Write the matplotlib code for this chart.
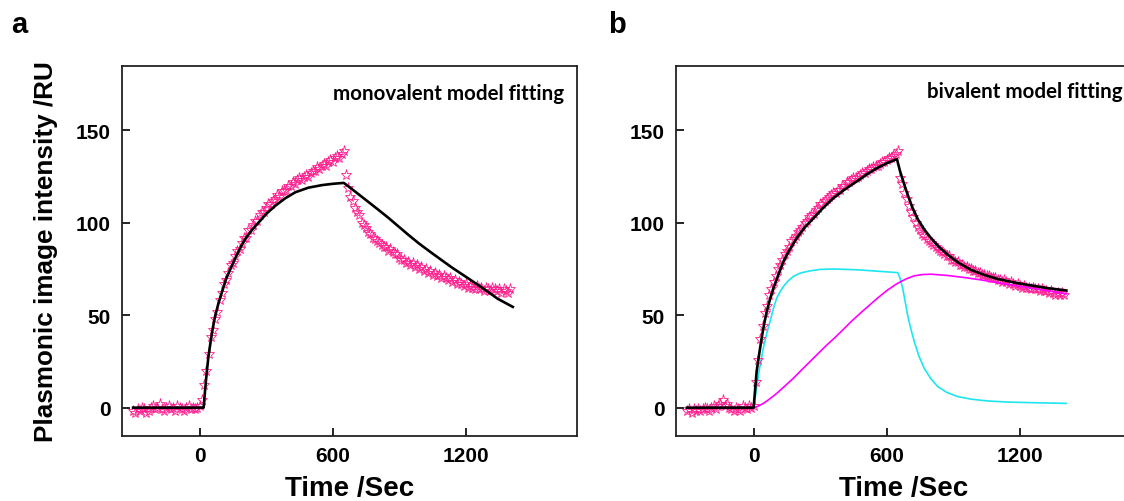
import numpy as np
import matplotlib
matplotlib.use("Agg")
import matplotlib.pyplot as plt

plt.rcParams['font.family'] = 'Liberation Sans'
plt.rcParams['font.weight'] = 'bold'

# measured signal (stars), one point every 10 s from -300 s to 1400 s
star_t = np.arange(-300, 1401, 10)

mono_signal = [
    -2, -3, -1, -2, 0, -1, -3, -2, 0, 1, -1, 0, 2, -1, -2, 0, 1, -1, 0, -2,
    1, 0, -1, -2, 0, 1, -1, 0, -1, 0, 1, 4,
    12, 20, 29, 38, 42, 48, 52, 58, 62, 67, 69, 73, 77, 78, 82, 85, 86, 89, 92, 92,
    96, 96, 99, 101, 101, 104, 106, 106, 108, 110, 110, 112, 113, 115, 114, 117, 117, 118, 120, 120,
    122, 121, 123, 124, 123, 125, 126, 125, 127, 128, 128, 130, 129, 131, 132, 131, 133, 134, 133, 135,
    136, 135, 137, 139,
    126, 119, 114, 112, 108, 106, 104, 100, 99, 97, 95, 94, 92, 91, 90, 89, 88, 87, 87, 85,
    86, 84, 83, 83, 81, 80, 80, 78, 79, 77, 78, 76, 77, 75, 76, 74, 75, 73, 74, 72,
    73, 71, 72, 70, 71, 70, 69, 70, 68, 69, 67, 68, 67, 66, 67, 65, 66, 65, 64, 66,
    64, 65, 63, 65, 64, 63, 65, 64, 63, 64, 62, 64, 63, 62, 64,
]

biv_signal = [
    -2, -1, -3, -1, -2, -1, -2, -1, 0, -1, -2, 0, 1, -1, 1, 2, 4, 1, 2, 0,
    -1, -2, 0, -1, -2, 1, 0, -1, 1, 0, 1,
    14, 26, 37, 44, 51, 55, 61, 64, 68, 71, 75, 77, 80, 83, 85, 87, 90, 91, 93, 95,
    96, 98, 100, 101, 103, 104, 105, 107, 108, 110, 110, 112, 113, 114, 115, 116, 116, 118, 118, 120,
    120, 122, 122, 123, 124, 124, 125, 126, 127, 127, 128, 129, 129, 130, 131, 131, 132, 133, 133, 134,
    135, 135, 136, 137, 139,
    124, 121, 116, 113, 109, 106, 103, 100, 98, 96, 94, 93, 91, 90, 89, 88, 87, 86, 85, 84,
    83, 82, 82, 80, 80, 79, 79, 77, 77, 76, 76, 75, 75, 74, 74, 73, 73, 72, 72, 71,
    71, 70, 70, 70, 69, 69, 68, 69, 68, 67, 68, 67, 66, 67, 66, 65, 66, 65, 65, 64,
    65, 64, 64, 63, 64, 63, 63, 62, 63, 62, 61, 62, 61, 62, 61,
]

# monovalent fit
mono_fit_t = [-300, 18, 25, 32, 40, 50, 60, 70, 85, 100, 120, 145, 175, 205, 235, 266, 300, 341,
              385, 431, 490, 552, 600, 650, 700, 750, 800, 850, 893, 940, 990, 1043, 1090, 1140,
              1194, 1240, 1290, 1344, 1412]
mono_fit_v = [0, 0, 10, 19, 28, 36, 43.5, 49.6, 56.5, 62.3, 69.8, 76.7, 84.5, 91.2, 96, 100.2, 104.8, 109.2,
              113.2, 116.5, 119, 120.4, 121.1, 121.6, 117, 112.3, 107.6, 102.8, 98.4, 93.6, 88.7, 84,
              79.9, 75.6, 71.3, 67.6, 63.5, 58.9, 54.5]

# bivalent fit: total, first site (cyan), second site (magenta)
biv_fit_t = [-300, 0, 13.5, 25, 36, 47, 59, 74, 89, 110, 134, 160, 194, 230, 270, 315, 360, 410, 465,
             510, 556, 600, 646, 660, 677, 694, 715, 740, 770, 800, 835, 875, 925, 980, 1040, 1101,
             1175, 1251, 1330, 1410]
biv_fit_v = [0, 0, 19.5, 29, 37.5, 45, 52, 58.7, 64.6, 71.5, 79, 85, 91.7, 97.5, 102.5, 108.3, 113.4, 118,
             122.4, 126.2, 129.6, 132.2, 134.5, 128, 121.5, 115.4, 108.5, 102, 96.3, 91.7, 87, 82.7, 78.3,
             74.6, 71.8, 69.6, 67.7, 66.1, 64.6, 63.4]

site1_t = [0, 10, 25, 45, 60, 78, 90, 104, 118, 134, 155, 179, 210, 254, 300, 360, 420, 480, 560, 645,
           650, 660, 672, 683, 694, 708, 724, 745, 769, 800, 830, 870, 920, 980, 1056, 1150, 1251, 1410]
site1_v = [0, 8, 20, 33, 40.5, 48.4, 54, 59.2, 62.5, 65.5, 68.5, 71, 72.8, 74, 74.8, 75, 74.8, 74.5, 73.8, 73.1,
           73, 70, 64.6, 57.5, 50.2, 43, 35.8, 28, 21.3, 15.5, 11.4, 8.3, 6, 4.6, 3.6, 3, 2.7, 2.3]

site2_t = [0, 20, 44, 70, 104, 140, 179, 215, 254, 290, 330, 370, 405, 440, 480, 520, 554, 600, 645,
           690, 724, 760, 800, 875, 950, 1026, 1100, 1176, 1250, 1327, 1410]
site2_v = [0, 0.8, 2.3, 4.5, 7.7, 11.6, 15.9, 20.3, 24.9, 29.2, 33.9, 38.3, 42.4, 46.6, 51, 55.2, 58.8, 63.3,
           67, 69.8, 71.3, 72, 72.2, 71.5, 70.4, 69.1, 67.6, 66.1, 64.7, 63.2, 61.5]

pink = '#FF1F8E'

fig = plt.figure(figsize=(11.24, 5.02), dpi=100)
W, H = 1124, 502
ax_a = fig.add_axes([122 / W, (H - 437.3) / H, 454.7 / W, 370.6 / H])
ax_b = fig.add_axes([676 / W, (H - 437.3) / H, 454.7 / W, 370.6 / H])


def style(ax):
    ax.set_xlim(-350, 1700)
    ax.set_ylim(-15.5, 185)
    ax.set_xticks([0, 600, 1200])
    ax.set_yticks([0, 50, 100, 150])
    ax.tick_params(direction='in', length=6, width=1.2, labelsize=15,
                   top=False, right=False)
    ax.tick_params(axis='y', pad=8)
    ax.tick_params(axis='x', pad=7)
    for s in ax.spines.values():
        s.set_linewidth(1.3)
        s.set_color('#222222')
    ax.set_xlabel('Time /Sec', fontsize=20, fontweight='bold')
    ax.xaxis.set_label_coords(0.5, -0.105)


for ax in (ax_a, ax_b):
    style(ax)

ax_a.plot(star_t, mono_signal, ls='none', marker='*', mfc='none', mec=pink, ms=8, mew=0.6, zorder=2)
ax_a.plot(mono_fit_t, mono_fit_v, color='black', lw=1.9, zorder=4)

ax_b.plot(site1_t, site1_v, color='#1CE6F0', lw=1.2, zorder=1)
ax_b.plot(star_t, biv_signal, ls='none', marker='*', mfc='none', mec=pink, ms=8, mew=0.6, zorder=2)
ax_b.plot(site2_t, site2_v, color='#FF00FF', lw=1.2, zorder=3)
ax_b.plot(biv_fit_t, biv_fit_v, color='black', lw=1.9, zorder=4)

ax_a.set_ylabel('Plasmonic image intensity /RU', fontsize=18.8, fontweight='bold')
ax_a.yaxis.set_label_coords(-0.141, 0.5)

ax_a.text(0.973, 0.925, 'monovalent model fitting', transform=ax_a.transAxes,
          ha='right', va='center', fontsize=14.8, family='Lato', fontweight='bold')
ax_b.text(0.983, 0.932, 'bivalent model fitting', transform=ax_b.transAxes,
          ha='right', va='center', fontsize=14.8, family='Lato', fontweight='bold')

fig.text(19 / W, 1 - 33 / H, 'a', fontsize=21, fontweight='bold', ha='center', va='baseline')
fig.text(617 / W, 1 - 33 / H, 'b', fontsize=21, fontweight='bold', ha='center', va='baseline')

fig.savefig('out.png', dpi=100)
